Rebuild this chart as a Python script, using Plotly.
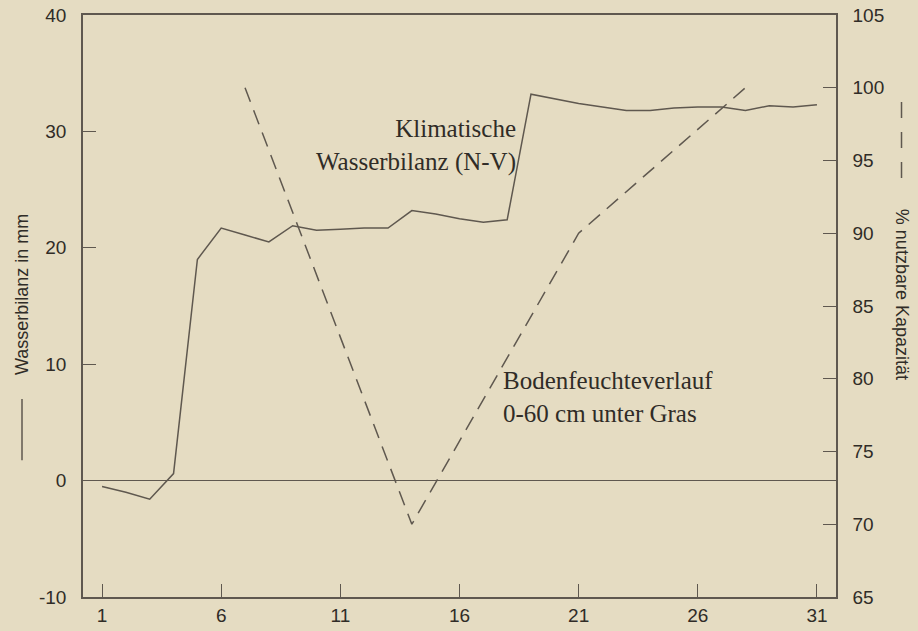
import plotly.graph_objects as go

# ---- data ----
days = list(range(1, 32))
wasserbilanz = [-0.5, -1.0, -1.6, 0.6, 19.0, 21.7, 21.1, 20.5, 21.9, 21.5,
                21.6, 21.7, 21.7, 23.2, 22.9, 22.5, 22.2, 22.4, 33.2, 32.8,
                32.4, 32.1, 31.8, 31.8, 32.0, 32.1, 32.1, 31.8, 32.2, 32.1, 32.3]
boden_days = [7, 14, 21, 28]
boden_pct = [100, 70, 90, 100]

x_ticks = [1, 6, 11, 16, 21, 26, 31]
y_left_ticks = [-10, 0, 10, 20, 30, 40]
y_left_labels = ["-10", "0", "10", "20", "30", "40"]
y_right_ticks = [65, 70, 75, 80, 85, 90, 95, 100, 105]

BG = "#e5dcc2"
INK = "#5f584f"
TXT = "#302c27"

fig = go.Figure()
fig.add_trace(go.Scatter(x=days, y=wasserbilanz, mode="lines",
                         line=dict(color=INK, width=1.5), yaxis="y",
                         showlegend=False, hoverinfo="skip"))
fig.add_trace(go.Scatter(x=boden_days, y=boden_pct, mode="lines",
                         line=dict(color=INK, width=1.5, dash="15px,9px"),
                         yaxis="y2", showlegend=False, hoverinfo="skip"))

tickfont = dict(family="Liberation Sans, Arial, sans-serif", size=19, color=TXT)
serif = dict(family="Liberation Serif, Times New Roman, serif", size=25, color=TXT)

fig.update_layout(
    width=918, height=631,
    margin=dict(l=83, r=82, t=15, b=34, autoexpand=False),
    paper_bgcolor=BG, plot_bgcolor=BG,
    xaxis=dict(range=[0.2, 31.8], tickvals=x_ticks, ticks="inside", ticklen=13,
               tickcolor=INK, tickwidth=1.2, showgrid=False, zeroline=False,
               showline=True, linecolor=INK, linewidth=1.5, mirror=True,
               tickfont=tickfont, ticklabelstandoff=0, automargin=False),
    yaxis=dict(range=[-10, 40], tickvals=y_left_ticks, ticktext=y_left_labels,
               ticks="inside", ticklen=13,
               tickcolor=INK, tickwidth=1.2, showgrid=False,
               zeroline=True, zerolinecolor=INK, zerolinewidth=1.3,
               showline=True, linecolor=INK, linewidth=1.5,
               tickfont=tickfont, ticklabelstandoff=11, automargin=False),
    yaxis2=dict(range=[65, 105], tickvals=y_right_ticks, ticks="inside", ticklen=13,
                tickcolor=INK, tickwidth=1.2, showgrid=False, zeroline=False,
                overlaying="y", side="right",
                showline=True, linecolor=INK, linewidth=1.5,
                tickfont=tickfont, ticklabelstandoff=11, automargin=False),
)

# in-plot labels
fig.add_annotation(x=18.45, y=28.8, xref="x", yref="y", xanchor="right", yanchor="middle",
                   text="Klimatische<br>Wasserbilanz (N-V)", align="right",
                   showarrow=False, font=serif)
fig.add_annotation(x=17.75, y=7.2, xref="x", yref="y", xanchor="left", yanchor="middle",
                   text="Bodenfeuchteverlauf<br>0-60 cm unter Gras", align="left",
                   showarrow=False, font=serif)

# axis titles (with line keys)
fig.add_annotation(x=-0.08, y=0.52, xref="paper", yref="paper", xanchor="center",
                   yanchor="middle", text="Wasserbilanz in mm", textangle=-90,
                   showarrow=False, font=dict(family=tickfont["family"], size=18, color=TXT))
fig.add_annotation(x=1.087, y=0.52, xref="paper", yref="paper", xanchor="center",
                   yanchor="middle", text="% nutzbare Kapazität", textangle=90,
                   showarrow=False, font=dict(family=tickfont["family"], size=18, color=TXT))
fig.add_shape(type="line", xref="paper", yref="paper", x0=-0.081, x1=-0.081,
              y0=0.235, y1=0.34, line=dict(color=INK, width=1.5))
fig.add_shape(type="line", xref="paper", yref="paper", x0=1.087, x1=1.087,
              y0=0.72, y1=0.86, line=dict(color=INK, width=1.5, dash="16px,14px"))

fig.write_html("out.html",
               config={"displayModeBar": False},
               post_script="document.body.style.margin='0';document.body.style.padding='0';"
                           "document.body.style.background='" + BG + "';")
